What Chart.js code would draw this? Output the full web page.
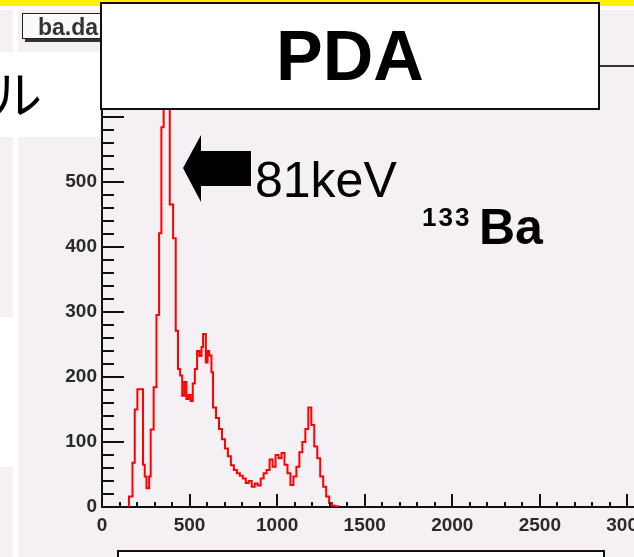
<!DOCTYPE html>
<html>
<head>
<meta charset="utf-8">
<script src="https://cdn.jsdelivr.net/npm/chart.js"></script>
<style>
  body { margin: 0; width: 634px; height: 557px; overflow: hidden; background: #fff; position: relative; }
  .abs { position: absolute; }
  .pink { position: absolute; background: #f4f0f4; }
  #wrap { position: absolute; left: 0; top: 0; width: 634px; height: 557px; overflow: hidden; }
  #titlebox { left: 22px; top: 13px; width: 110px; height: 26px; background: #fbfafb; border: 1px solid #222;
              box-shadow: 3px 3px 0 #333; font: bold 23px 'Liberation Sans', Arial, sans-serif; color: #333;
              line-height: 26px; padding-left: 15px; box-sizing: border-box; }
  #jp { left: 0; top: 52px; width: 100px; height: 85px; background: #fff; overflow: hidden; }
  #jp span { position: absolute; left: -9px; top: 15px; font: 51px 'Noto Sans CJK JP', sans-serif; line-height: 1; color: #000; }
  #pda { left: 100px; top: 2px; width: 500px; height: 108px; background: #fff; border: 2px solid #111; box-sizing: border-box;
         display: flex; align-items: center; justify-content: center;
         font: bold 70px 'Liberation Sans', Arial, sans-serif; color: #000; }
  #kev { left: 255px; top: 155px; font: 50px 'Liberation Sans', Arial, sans-serif; line-height: 1; color: #000; }
  #iso { left: 422px; top: 204px; font: bold 26px 'Liberation Sans', Arial, sans-serif; letter-spacing: 2px; line-height: 1; color: #000; }
  #ba { left: 479px; top: 202px; font: bold 50px 'Liberation Sans', Arial, sans-serif; line-height: 1; color: #000; }
  #bottombox { left: 117px; top: 550px; width: 488px; height: 30px; background: #fff; border: 2px solid #111; box-sizing: border-box; }
</style>
</head>
<body>
<div class="abs" style="left:0;top:0;width:634px;height:6px;background:#fff200"></div>
<div class="pink" style="left:18px;top:10px;width:616px;height:547px"></div>
<div class="pink" style="left:0;top:10px;width:13px;height:307px"></div>
<div class="pink" style="left:0;top:467px;width:13px;height:90px"></div>

<div id="wrap"><canvas id="spectrum" width="760" height="557"></canvas></div>

<div id="titlebox" class="abs">ba.da</div>
<div id="jp" class="abs"><span>ル</span></div>
<div id="pda" class="abs">PDA</div>
<svg class="abs" style="left:0;top:0" width="634" height="557">
  <polygon points="183,168 201,135 201,151 251,151 251,186 201,186 201,202" fill="#000"/>
</svg>
<div id="kev" class="abs">81keV</div>
<div id="iso" class="abs">133</div>
<div id="ba" class="abs">Ba</div>
<div id="bottombox" class="abs"></div>

<script>
// 133Ba spectrum: left edge of each histogram step and its count
const binEdges = [
  146, 154, 174, 187, 202, 234, 244, 254, 269, 278, 295, 311, 326, 339, 352, 370,
  387, 406, 421, 434, 446, 458, 470, 482, 494, 506, 518, 530, 543, 556, 568, 577,
  593, 603, 612, 625, 634, 651, 668, 685, 702, 719, 736, 753, 770, 787, 804, 821,
  838, 855, 872, 889, 906, 923, 940, 957, 974, 991, 1008, 1025, 1042, 1059, 1076, 1093,
  1110, 1127, 1144, 1161, 1178, 1195, 1212, 1229, 1246, 1263, 1280, 1297, 1314, 1331, 1348
];
const counts = [
  0, 16, 68, 150, 181, 65, 47, 29, 47, 119, 184, 295, 421, 584, 640, 655,
  465, 413, 271, 212, 202, 171, 192, 166, 172, 163, 190, 212, 240, 232, 246, 266,
  222, 240, 233, 207, 153, 137, 120, 104, 90, 78, 64, 57, 52, 48, 44, 37,
  40, 31, 36, 33, 44, 52, 57, 73, 62, 80, 75, 83, 65, 52, 34, 47,
  62, 84, 100, 120, 153, 126, 93, 75, 47, 31, 16, 6, 2, 1, 0
];

// axis ranges (channels on x, counts on y)
const xMin = 0, xMax = 3500;
const yMin = 0, yMax = 678;
const xMajor = 500, xMinor = 100;
const yMajor = 100, yMinor = 20;

const points = binEdges.map((e, i) => ({ x: e, y: counts[i] }));

const tickFont = { family: "'Liberation Sans', Arial, sans-serif", size: 19, weight: 'bold' };

// ROOT style ticks pointing into the frame, plus the frame top line
const innerTicks = {
  id: 'innerTicks',
  afterDraw(chart) {
    const { ctx, chartArea, scales: { x, y } } = chart;
    ctx.save();
    ctx.strokeStyle = '#111';
    ctx.lineWidth = 2;
    ctx.beginPath();
    for (let v = yMin; v <= yMax; v += yMinor) {
      const py = Math.round(y.getPixelForValue(v));
      const len = v % yMajor === 0 ? 22 : 12;
      ctx.moveTo(chartArea.left, py);
      ctx.lineTo(chartArea.left + len, py);
    }
    for (let v = xMin; v <= xMax; v += xMinor) {
      const px = Math.round(x.getPixelForValue(v));
      const len = v % xMajor === 0 ? 13 : 5;
      ctx.moveTo(px, chartArea.bottom);
      ctx.lineTo(px, chartArea.bottom - len);
    }
    ctx.stroke();
    ctx.strokeStyle = '#333';
    ctx.beginPath();
    ctx.moveTo(chartArea.left, chartArea.top);
    ctx.lineTo(chartArea.right, chartArea.top);
    ctx.stroke();
    ctx.restore();
  }
};

new Chart(document.getElementById('spectrum'), {
  type: 'line',
  data: {
    datasets: [{
      data: points,
      borderColor: '#ff0000',
      borderWidth: 2,
      pointRadius: 0,
      stepped: true,
      fill: false,
    }],
  },
  options: {
    responsive: false,
    animation: false,
    layout: { padding: { top: 66, right: 45, left: 0, bottom: 0 } },
    plugins: { legend: { display: false }, tooltip: { enabled: false } },
    scales: {
      x: {
        type: 'linear',
        min: xMin,
        max: xMax,
        grid: { display: false, drawTicks: false },
        border: { color: '#111', width: 2 },
        ticks: { stepSize: xMajor, includeBounds: false, color: '#2a2a2a', font: tickFont, padding: 7, maxRotation: 0, autoSkip: false,
                 callback: (v) => String(v) },
        afterFit: (s) => { s.height = 50; },
      },
      y: {
        min: yMin,
        max: yMax,
        grid: { display: false, drawTicks: false },
        border: { color: '#111', width: 2 },
        ticks: { stepSize: yMajor, includeBounds: false, color: '#2a2a2a', font: tickFont, padding: 5 },
        afterFit: (s) => { s.width = 102; },
      },
    },
  },
  plugins: [innerTicks],
});
</script>
</body>
</html>
